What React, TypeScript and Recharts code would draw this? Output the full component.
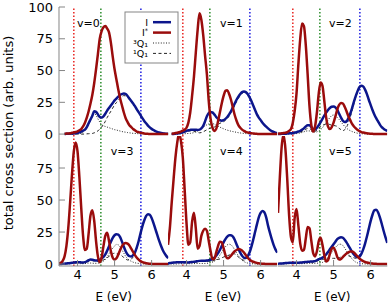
import React from "react";
import { LineChart, Line, XAxis, YAxis, ReferenceLine } from "recharts";

type S = (number | null)[];

// Energy grid (eV)
const E: number[] = [
  3.5, 3.55, 3.6, 3.65, 3.7, 3.75, 3.8, 3.85, 3.9, 3.95,
  4, 4.05, 4.1, 4.15, 4.2, 4.25, 4.3, 4.35, 4.4, 4.45,
  4.5, 4.55, 4.6, 4.65, 4.7, 4.75, 4.8, 4.85, 4.9, 4.95,
  5, 5.05, 5.1, 5.15, 5.2, 5.25, 5.3, 5.35, 5.4, 5.45,
  5.5, 5.55, 5.6, 5.65, 5.7, 5.75, 5.8, 5.85, 5.9, 5.95,
  6, 6.05, 6.1, 6.15, 6.2, 6.25, 6.3, 6.35, 6.4, 6.45,
];

// v = 0
const Istar0: S = [null, null, null, 0.3, 0.4, 0.5, 0.7, 1.0, 1.3, 1.6,
  2.2, 3, 4, 6, 9, 13, 18, 24, 31, 40,
  51, 63, 75, 81, 84, 85, 83, 80, 72, 61,
  51, 43, 35, 28, 22.5, 17, 12.5, 9.5, 7, 5.5,
  4, 3, 2, 1.5, 1, 0.8, 0.5, 0.3, 0.2, 0.1,
  0.1, 0, 0, 0, 0, 0, 0, 0, 0, 0];
const I0: S = [null, null, null, 0.1, 0.2, 0.3, 0.4, 0.5, 0.6, 0.8,
  1, 1.3, 2, 2.7, 3.5, 5.5, 8.5, 11.5, 14.5, 18,
  17.5, 15.5, 13.5, 13, 14, 16, 18.5, 20.5, 22.5, 24.5,
  26.5, 28, 29.5, 30.8, 31.5, 32, 31.5, 30, 28, 26,
  24, 22, 19.5, 17.3, 15, 12.5, 10.3, 8.5, 6.7, 5.3,
  4.1, 3.2, 2.4, 1.8, 1.2, 0.9, 0.6, 0.4, 0.3, 0.2];
const Q3_0: S = [null, null, null, 0, 0, 0, 0, 0, 0, 0.1,
  0.2, 0.4, 0.8, 1.5, 3, 5, 8, 11, 14, 16,
  15, 12, 9.5, 7.5, 6.5, 6, 5.5, 5, 4.5, 4,
  3.5, 3.2, 2.8, 2.4, 2, 1.7, 1.5, 1.2, 1, 0.8,
  0.6, 0.5, 0.4, 0.3, 0.2, 0.2, 0.1, 0.1, 0, 0,
  0, 0, 0, 0, 0, 0, 0, 0, 0, 0];
const Q1_0: S = [null, null, null, 0, 0, 0, 0, 0, 0, 0,
  0, 0, 0, 0, 0, 0.2, 0.3, 0.4, 0.5, 1,
  1.5, 2.5, 4, 5.5, 7.5, 10, 13, 15.5, 18, 20.5,
  23, 24.8, 26.7, 28.4, 29.5, 30.3, 30, 28.8, 27, 25.2,
  23.4, 21.5, 19.1, 17, 14.8, 12.3, 10.2, 8.4, 6.7, 5.3,
  4.1, 3.2, 2.4, 1.8, 1.2, 0.9, 0.6, 0.4, 0.3, 0.2];

// v = 1
const Istar1: S = [null, null, 0.3, 0.5, 0.8, 1.1, 1.5, 2, 2.7, 3.5,
  5, 9, 17, 30, 45, 64, 82, 95, 90, 78,
  62, 47, 26, 12, 5, 2.5, 4, 10, 17, 24,
  30, 34, 34.5, 31.5, 27, 21, 15, 10.5, 7, 5,
  3.5, 2.5, 1.7, 1.3, 1, 0.7, 0.5, 0.3, 0.2, 0.1,
  0.1, 0, 0, 0, 0, 0, 0, 0, 0, 0];
const I1: S = [null, null, 0, 0.1, 0.3, 0.5, 0.8, 1.1, 1.5, 2,
  2.5, 3, 3.3, 3.5, 3.5, 3.4, 3.3, 3.5, 4.5, 6.5,
  10, 14, 16.5, 17.3, 17, 15.5, 13.5, 12, 11, 10.5,
  11, 12, 13.5, 15.5, 18, 21, 24, 27, 29.5, 31.5,
  33, 33.5, 33, 31.5, 29, 26, 22.5, 19, 15.5, 13,
  11, 9, 7.3, 5.8, 4.5, 3.3, 2.4, 1.7, 1.1, 0.7];
const Q3_1: S = [null, null, 0, 0, 0, 0, 0, 0.1, 0.2, 0.3,
  0.4, 0.5, 0.6, 0.8, 1.2, 1.8, 2.5, 3.5, 4.5, 5.5,
  6.5, 7.3, 8, 8.5, 8.3, 7.8, 7, 6.3, 5.5, 4.8,
  4.2, 3.6, 3.1, 2.7, 2.3, 2, 1.7, 1.4, 1.1, 0.9,
  0.7, 0.5, 0.4, 0.3, 0.2, 0.1, 0.1, 0, 0, 0,
  0, 0, 0, 0, 0, 0, 0, 0, 0, 0];
const Q1_1: S = [null, null, 0, 0.1, 0.2, 0.4, 0.6, 0.9, 1.2, 1.6,
  2, 2.4, 2.6, 2.6, 2.3, 1.8, 1.3, 1, 1.2, 1.8,
  2.6, 3.4, 4.2, 4.8, 5.2, 5.5, 6.5, 7.5, 8.5, 9,
  9.8, 10.8, 12.3, 14.2, 16.8, 19.5, 22.5, 25.5, 28.2, 30.3,
  32, 32.8, 32.5, 31.2, 28.8, 25.9, 22.4, 19, 15.5, 13,
  11, 9, 7.3, 5.8, 4.5, 3.3, 2.4, 1.7, 1.1, 0.7];

// v = 2
const Istar2: S = [0.3, 0.4, 0.6, 0.8, 1, 1.5, 2.5, 4, 9, 18,
  32, 55, 75, 87, 85, 70, 47, 22, 7, 2,
  6, 17, 32, 40.5, 38, 26, 13, 6, 4, 5.5,
  9, 14, 19.5, 23, 24.5, 24, 21.5, 18, 14, 11,
  8, 6, 4.5, 3.2, 2.3, 1.6, 1.2, 0.9, 0.6, 0.4,
  0.3, 0.2, 0.1, 0, 0, 0, 0, 0, 0, 0];
const I2: S = [0, 0.1, 0.2, 0.2, 0.3, 0.4, 0.6, 0.7, 0.9, 1.2,
  1.5, 2, 2.5, 3.5, 4.5, 6, 7, 7, 5.5, 4,
  3.8, 5, 7, 9.5, 12, 14.5, 17, 19, 20.5, 21.5,
  21.8, 21, 19, 16, 13, 10.5, 9.5, 10, 12.5, 16,
  20.5, 25.5, 30, 34, 37, 38, 37.5, 35, 31.5, 27,
  23, 19, 15.5, 12.5, 10, 7.5, 5.5, 4.2, 3.2, 2.5];
const Q3_2: S = [0, 0, 0, 0, 0, 0, 0, 0, 0.1, 0.2,
  0.4, 0.6, 0.9, 1.3, 1.8, 2.3, 2.5, 2.5, 2.2, 1.8,
  1.6, 1.8, 2.5, 3.5, 5, 7, 9, 11, 13, 14.5,
  15, 14.5, 13, 11.5, 9.5, 7.8, 6, 4.7, 3.5, 2.7,
  2, 1.5, 1, 0.7, 0.5, 0.3, 0.2, 0.1, 0, 0,
  0, 0, 0, 0, 0, 0, 0, 0, 0, 0];
const Q1_2: S = [0, 0.1, 0.2, 0.2, 0.3, 0.4, 0.6, 0.7, 0.8, 1,
  1.1, 1.4, 1.6, 2.2, 2.7, 3.7, 4.5, 4.5, 3.3, 2.2,
  2.2, 3.2, 4.5, 6, 7, 7.5, 8, 8, 7.5, 7,
  6.8, 6.5, 6, 4.5, 3.5, 2.7, 3.5, 5.3, 9, 13.3,
  18.5, 24, 29, 33.3, 36.5, 37.7, 37.3, 34.9, 31.5, 27,
  23, 19, 15.5, 12.5, 10, 7.5, 5.5, 4.2, 3.2, 2.5];

// v = 3
const Istar3: S = [0.5, 1, 2.5, 6, 14, 28, 48, 70, 88, 95,
  88, 68, 44, 22, 11, 12, 24, 38, 42, 34,
  18, 6, 1.5, 5, 14, 22, 24.5, 18, 10, 5,
  3.5, 4.5, 7.5, 11, 14, 15.8, 16.4, 16, 14.5, 12,
  9.5, 7, 5, 3.5, 2.3, 1.5, 1, 0.7, 0.4, 0.3,
  0.2, 0.1, 0, 0, 0, 0, 0, 0, 0, 0];
const I3: S = [0, 0.1, 0.2, 0.3, 0.5, 0.6, 0.8, 1, 1.2, 1.4,
  1.5, 1.5, 1.3, 1.2, 1.5, 2.2, 3, 3.5, 3.4, 3,
  2.8, 3, 3.5, 4.3, 5.5, 7.5, 10.5, 14, 17.5, 20.5,
  22.5, 23.3, 23, 21, 17.5, 13.5, 10, 7.5, 6.2, 6,
  7, 9, 13, 18, 24, 29.5, 34, 37.5, 39, 38.5,
  36, 32, 27.5, 23, 18.5, 14.5, 11, 8.3, 6.2, 4.6];
const Q3_3: S = [0, 0, 0, 0, 0.1, 0.2, 0.3, 0.4, 0.5, 0.5,
  0.5, 0.4, 0.3, 0.3, 0.4, 0.6, 0.8, 0.8, 0.7, 0.6,
  0.6, 0.8, 1, 1.5, 2.3, 3.5, 5.5, 8, 10.5, 12.5,
  14, 15.3, 15, 13.5, 11, 8.5, 6, 4.3, 3, 2.2,
  1.5, 1, 0.7, 0.5, 0.3, 0.2, 0.1, 0, 0, 0,
  0, 0, 0, 0, 0, 0, 0, 0, 0, 0];
const Q1_3: S = [0, 0.1, 0.2, 0.3, 0.4, 0.4, 0.5, 0.6, 0.7, 0.9,
  1, 1.1, 1, 0.9, 1.1, 1.6, 2.2, 2.7, 2.7, 2.4,
  2.2, 2.2, 2.5, 2.8, 3.2, 4, 5, 6, 7, 8,
  8.5, 8, 8, 7.5, 6.5, 5, 4, 3.2, 3.2, 3.8,
  5.5, 8, 12.3, 17.5, 23.7, 29.3, 33.9, 37.5, 39, 38.5,
  36, 32, 27.5, 23, 18.5, 14.5, 11, 8.3, 6.2, 4.6];

// v = 4
const Istar4: S = [15, 28, 48, 66, 83, 95, 102, 96, 83, 58,
  32, 15, 17, 33, 40, 28, 12, 14, 22, 26,
  27.5, 26, 18, 10, 4, 4, 9, 14, 17.5, 17,
  12.5, 7, 4.5, 5, 6.5, 8.5, 10, 11, 11.7, 11.5,
  10.5, 9, 7, 5, 3.5, 2.5, 1.8, 1.3, 0.9, 0.6,
  0.4, 0.3, 0.2, 0.1, 0, 0, 0, 0, 0, 0];
const I4: S = [0.5, 0.8, 1, 1.2, 1.3, 1.4, 1.5, 1.5, 1.5, 1.4,
  1.3, 1.3, 1.5, 1.6, 1.8, 2, 2.3, 2.5, 2.6, 2.6,
  2.6, 2.8, 3, 3.4, 4, 5, 6.5, 8.5, 11, 14,
  17, 19.5, 21.5, 22.5, 22.5, 21.5, 19, 15.5, 12, 9,
  6.5, 5, 4.8, 6, 9, 13.5, 19, 25, 31, 36.5,
  40, 41.5, 40.5, 36.5, 30, 24.5, 19.5, 15, 11.5, 9];
const Q3_4: S = [0, 0, 0, 0, 0, 0.1, 0.2, 0.3, 0.3, 0.3,
  0.3, 0.3, 0.3, 0.3, 0.4, 0.4, 0.5, 0.5, 0.5, 0.5,
  0.5, 0.6, 0.8, 1, 1.5, 2.2, 3.2, 4.8, 7, 9.2,
  11.5, 13.5, 15, 15.5, 15, 13.5, 11, 8.7, 6.5, 4.7,
  3, 2, 1.2, 0.8, 0.5, 0.3, 0.2, 0.1, 0, 0,
  0, 0, 0, 0, 0, 0, 0, 0, 0, 0];
const Q1_4: S = [0.5, 0.8, 1, 1.2, 1.3, 1.3, 1.3, 1.2, 1.2, 1.1,
  1, 1, 1.2, 1.3, 1.4, 1.6, 1.8, 2, 2.1, 2.1,
  2.1, 2.2, 2.2, 2.4, 2.5, 2.8, 3.3, 3.7, 4, 4.8,
  5.5, 6, 6.5, 7, 7.5, 8, 8, 6.8, 5.5, 4.3,
  3.5, 3, 3.6, 5.2, 8.5, 13.2, 18.8, 24.9, 31, 36.5,
  40, 41.5, 40.5, 36.5, 30, 24.5, 19.5, 15, 11.5, 9];

// v = 5
const Istar5: S = [40, 68, 92, 101, 90, 66, 38, 21, 17, 36,
  43, 30, 16, 10.5, 11, 20, 29, 28, 18, 8.5,
  6, 10, 18, 20.5, 15, 7, 2, 3, 8, 12,
  13, 10, 5.5, 3.5, 4, 5.5, 7, 8.3, 9.2, 9.8,
  9.8, 9, 7.5, 5.8, 4.3, 3.2, 2.3, 1.6, 1.2, 0.9,
  0.6, 0.4, 0.3, 0.2, 0.1, 0, 0, 0, 0, 0];
const I5: S = [0.3, 0.4, 0.5, 0.6, 0.8, 0.9, 1, 1, 1, 1,
  1, 1.1, 1.2, 1.3, 1.5, 1.6, 1.8, 1.9, 2, 2.1,
  2.3, 3, 3.8, 4.3, 5, 6, 7.5, 9.5, 11.5, 13.5,
  15.5, 17.5, 19.5, 20.5, 21, 20.5, 19, 17, 14.5, 12,
  9.5, 7.5, 6, 5.5, 6, 8, 11.5, 16, 21.5, 27.5,
  33.5, 38.5, 42, 42.5, 40.5, 36.5, 31.5, 26, 21, 16.5];
const Q3_5: S = [0, 0, 0, 0, 0.1, 0.2, 0.2, 0.3, 0.3, 0.3,
  0.3, 0.3, 0.3, 0.3, 0.4, 0.4, 0.4, 0.5, 0.5, 0.5,
  0.6, 0.7, 0.8, 1, 1.3, 2, 3, 4.8, 7, 9,
  11, 13, 14.5, 15.5, 15.5, 14.5, 12.5, 10.2, 8, 6,
  4, 2.6, 1.5, 0.9, 0.5, 0.3, 0.2, 0.1, 0, 0,
  0, 0, 0, 0, 0, 0, 0, 0, 0, 0];
const Q1_5: S = [0.3, 0.4, 0.5, 0.6, 0.7, 0.7, 0.8, 0.7, 0.7, 0.7,
  0.7, 0.8, 0.9, 1, 1.1, 1.2, 1.4, 1.4, 1.5, 1.6,
  1.7, 2.2, 2.9, 3.2, 3.6, 4, 4.4, 4.6, 4.5, 4.5,
  4.5, 4.5, 5, 5, 5.5, 6, 6.5, 6.8, 6.5, 6,
  5.5, 4.9, 4.5, 4.6, 5.5, 7.7, 11.3, 15.9, 21.5, 27.5,
  33.5, 38.5, 42, 42.5, 40.5, 36.5, 31.5, 26, 21, 16.5];

const PANEL_LABELS = ["v=0", "v=1", "v=2", "v=3", "v=4", "v=5"];
const SERIES_I = [I0, I1, I2, I3, I4, I5];
const SERIES_ISTAR = [Istar0, Istar1, Istar2, Istar3, Istar4, Istar5];
const SERIES_Q3 = [Q3_0, Q3_1, Q3_2, Q3_3, Q3_4, Q3_5];
const SERIES_Q1 = [Q1_0, Q1_1, Q1_2, Q1_3, Q1_4, Q1_5];

const X_TICKS = [4, 5, 6];
const Y_TICKS_TOP = [0, 25, 50, 75, 100];
const Y_TICKS_BOTTOM = [0, 25, 50, 75];
const VLINES = [3.9, 4.63, 5.71];
const VLINE_COLORS = ["#e8231e", "#2a8c2a", "#1c1ce0"];

// layout
const COL_X = [59, 168.3, 277.6];
const ROW_Y = [6.5, 135.5];
const ROW_H = [129, 130];
const PW = 109.3;
const YW = 59;
const XH = 40;
const M = 10;
const FRAME = "#858585";
const BLUE = "#0c168c";
const RED = "#9a0c0c";
const FONT = "DejaVu Sans";
const LABEL_POS: [number, number][] = [[77, 27], [220, 27], [329, 27], [110.7, 155], [220, 155], [329, 155]];

function Panel({ k }: { k: number }) {
  const r = Math.floor(k / 3);
  const c = k % 3;
  const leftPad = c === 0 ? YW : M;
  const bottomPad = r === 1 ? XH : M;
  const w = leftPad + PW + M;
  const h = M + ROW_H[r] + bottomPad;
  const rows = E.map((e, i) => ({
    E: e,
    I: SERIES_I[k][i],
    Is: SERIES_ISTAR[k][i],
    Q3: SERIES_Q3[k][i],
    Q1: SERIES_Q1[k][i],
  }));
  const tickStyle = { fill: "#000", fontSize: 13, fontFamily: FONT };
  return (
    <div style={{ position: "absolute", left: COL_X[c] - leftPad, top: ROW_Y[r] - M }}>
      <LineChart
        width={w}
        height={h}
        data={rows}
        margin={{ top: M, right: M, bottom: r === 1 ? 0 : M, left: c === 0 ? 0 : M }}
      >
        <XAxis
          xAxisId="b"
          dataKey="E"
          type="number"
          domain={[3.5, 6.45]}
          allowDataOverflow
          ticks={X_TICKS}
          orientation="bottom"
          height={r === 1 ? XH : 0}
          tick={r === 1 ? tickStyle : false}
          tickSize={-6}
          tickMargin={10}
          axisLine={{ stroke: FRAME }}
          tickLine={{ stroke: FRAME }}
        />
        <XAxis
          xAxisId="t"
          dataKey="E"
          type="number"
          domain={[3.5, 6.45]}
          allowDataOverflow
          ticks={X_TICKS}
          orientation="top"
          height={0}
          tick={false}
          tickSize={-6}
          axisLine={{ stroke: FRAME }}
          tickLine={{ stroke: FRAME }}
        />
        <YAxis
          yAxisId="l"
          type="number"
          domain={[-1.5, 100]}
          allowDataOverflow
          ticks={r === 0 ? Y_TICKS_TOP : Y_TICKS_BOTTOM}
          orientation="left"
          width={c === 0 ? YW : 0}
          tick={c === 0 ? tickStyle : false}
          tickSize={-6}
          tickMargin={12}
          axisLine={{ stroke: FRAME }}
          tickLine={{ stroke: FRAME }}
        />
        <YAxis
          yAxisId="r"
          type="number"
          domain={[-1.5, 100]}
          allowDataOverflow
          ticks={r === 0 ? Y_TICKS_TOP : Y_TICKS_BOTTOM}
          orientation="right"
          width={0}
          tick={false}
          tickSize={-6}
          axisLine={{ stroke: FRAME }}
          tickLine={{ stroke: FRAME }}
        />
        {VLINES.map((x, i) => (
          <ReferenceLine
            key={i}
            xAxisId="b"
            yAxisId="l"
            x={x}
            stroke={VLINE_COLORS[i]}
            strokeWidth={1.5}
            strokeDasharray="1.5 2"
          />
        ))}
        <Line xAxisId="b" yAxisId="l" dataKey="Q3" type="monotone" stroke="#222" strokeWidth={1}
          strokeDasharray="1 1.6" dot={false} activeDot={false} isAnimationActive={false} />
        <Line xAxisId="b" yAxisId="l" dataKey="Q1" type="monotone" stroke="#222" strokeWidth={1}
          strokeDasharray="3 2.5" dot={false} activeDot={false} isAnimationActive={false} />
        <Line xAxisId="b" yAxisId="l" dataKey="I" type="monotone" stroke={BLUE} strokeWidth={2.5}
          dot={false} activeDot={false} isAnimationActive={false} />
        <Line xAxisId="b" yAxisId="l" dataKey="Is" type="monotone" stroke={RED} strokeWidth={2.5}
          dot={false} activeDot={false} isAnimationActive={false} />
      </LineChart>
    </div>
  );
}

export default function App() {
  const legendY = [22.2, 32.6, 43.0, 53.4];
  const lf = 9.5;
  return (
    <div
      style={{
        position: "absolute",
        left: 0,
        top: 0,
        width: 390,
        height: 304,
        background: "#fff",
        fontFamily: FONT,
        overflow: "hidden",
      }}
    >
      {PANEL_LABELS.map((_, k) => (
        <Panel key={k} k={k} />
      ))}
      <svg width={390} height={304} style={{ position: "absolute", left: 0, top: 0 }} fontFamily={FONT}>
        <text transform="translate(13,133) rotate(-90)" textAnchor="middle" fontSize={13} fill="#000">
          total cross section (arb. units)
        </text>
        {COL_X.map((x, i) => (
          <text key={i} x={x + PW / 2} y={301} textAnchor="middle" fontSize={12} fill="#000">
            E (eV)
          </text>
        ))}
        {PANEL_LABELS.map((t, k) => (
          <text key={k} x={LABEL_POS[k][0]} y={LABEL_POS[k][1]} fontSize={11} fill="#000">
            {t}
          </text>
        ))}
        <rect x={125} y={12} width={53} height={51} fill="#fff" stroke={FRAME} strokeWidth={1} />
        <text x={148} y={legendY[0] + 3.5} textAnchor="end" fontSize={lf} fill="#000">I</text>
        <text x={148} y={legendY[1] + 3.5} textAnchor="end" fontSize={lf} fill="#000">
          I<tspan fontSize={6.5} dy={-3.5}>*</tspan>
        </text>
        <text x={148} y={legendY[2] + 3.5} textAnchor="end" fontSize={lf} fill="#000">³Q₁</text>
        <text x={148} y={legendY[3] + 3.5} textAnchor="end" fontSize={lf} fill="#000">¹Q₁</text>
        <line x1={153} x2={171} y1={legendY[0]} y2={legendY[0]} stroke={BLUE} strokeWidth={2.5} />
        <line x1={153} x2={171} y1={legendY[1]} y2={legendY[1]} stroke={RED} strokeWidth={2.5} />
        <line x1={153} x2={171} y1={legendY[2]} y2={legendY[2]} stroke="#222" strokeWidth={1} strokeDasharray="1 1.6" />
        <line x1={153} x2={171} y1={legendY[3]} y2={legendY[3]} stroke="#222" strokeWidth={1} strokeDasharray="3 2.5" />
      </svg>
    </div>
  );
}
